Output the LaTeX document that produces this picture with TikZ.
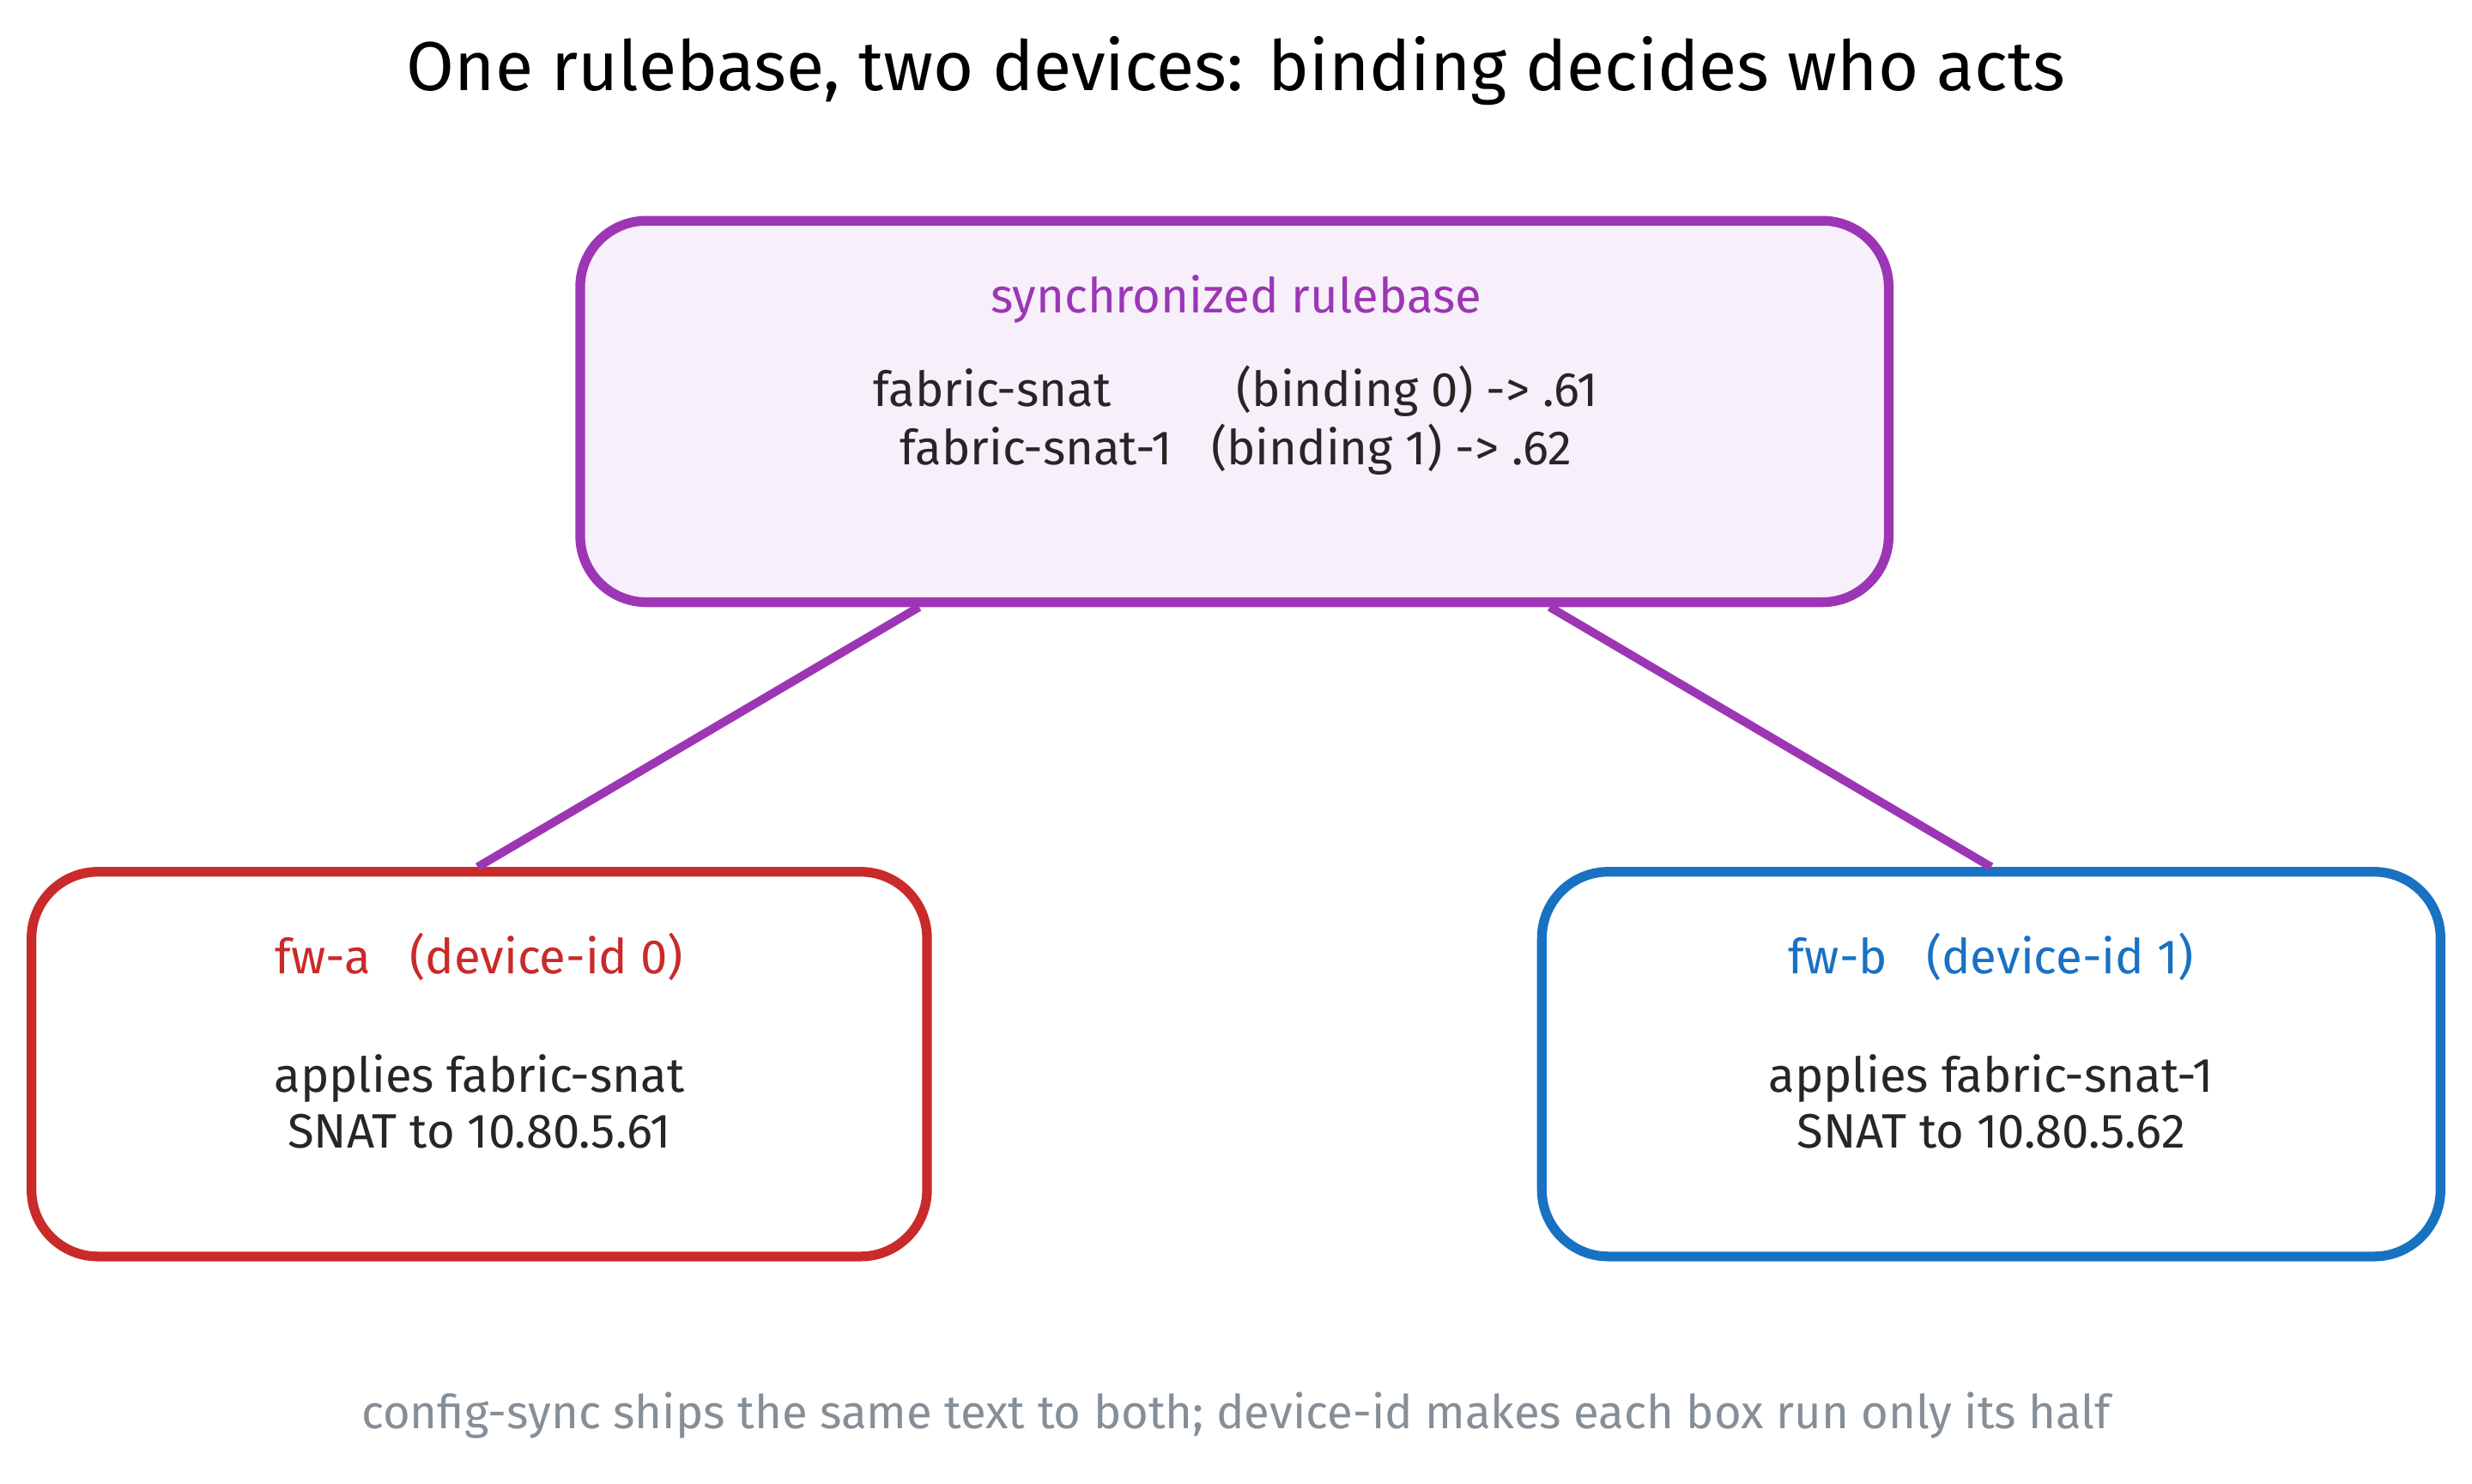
\documentclass[tikz,border=0pt]{standalone}
\usepackage{fontspec}
\setmainfont{Fira Sans}
\begin{document}
\begin{tikzpicture}[x=0.018367cm,y=-0.018367cm,
  box/.style={draw,line width=3.2pt,rounded corners=22pt},
  txt/.style={font=\fontsize{16}{18.5}\selectfont,text=black!85},
  link/.style={draw=purpleC,line width=2.8pt}]
\definecolor{purpleC}{HTML}{9C36B5}
\definecolor{purpleF}{HTML}{F7EFFA}
\definecolor{redC}{HTML}{C92A2A}
\definecolor{blueC}{HTML}{1971C2}
\definecolor{grayC}{HTML}{868E96}
\useasboundingbox (0,0) rectangle (1568,940.8);
\node (title) at (784,45) {\fontsize{23}{26}\selectfont One rulebase, two devices: binding decides who acts};
\node[box,draw=purpleC,fill=purpleF,minimum width=830*0.018367cm,minimum height=242*0.018367cm] (rb) at (783,261) {};
\node[txt,text=purpleC] (rbt) at (784,190) {synchronized rulebase};
\node[txt] (rb1) at (784,248) {fabric-snat\hspace{2.6em}(binding 0) -> .61};
\node[txt] (rb2) at (784,285) {fabric-snat-1\hspace{0.8em}(binding 1) -> .62};
\node[box,draw=redC,minimum width=568*0.018367cm,minimum height=244*0.018367cm] (fa) at (304,675) {};
\node[txt,text=redC] (fat) at (304,607) {fw-a\hspace{0.8em}(device-id 0)};
\node[txt,align=center] (fab) at (304,699) {applies fabric-snat\\SNAT to 10.80.5.61};
\node[box,draw=blueC,minimum width=570*0.018367cm,minimum height=244*0.018367cm] (fb) at (1263,675) {};
\node[txt,text=blueC] (fbt) at (1263,607) {fw-b\hspace{0.8em}(device-id 1)};
\node[txt,align=center] (fbb) at (1263,699) {applies fabric-snat-1\\SNAT to 10.80.5.62};
\draw[link] (rb.south -| 583,0) -- (fa.north -| 303,0);
\draw[link] (rb.south -| 983,0) -- (fb.north -| 1263,0);
\node[text=grayC,font=\fontsize{15.5}{18}\selectfont] (foot) at (784,898) {config-sync ships the same text to both; device-id makes each box run only its half};
\end{tikzpicture}
\end{document}
